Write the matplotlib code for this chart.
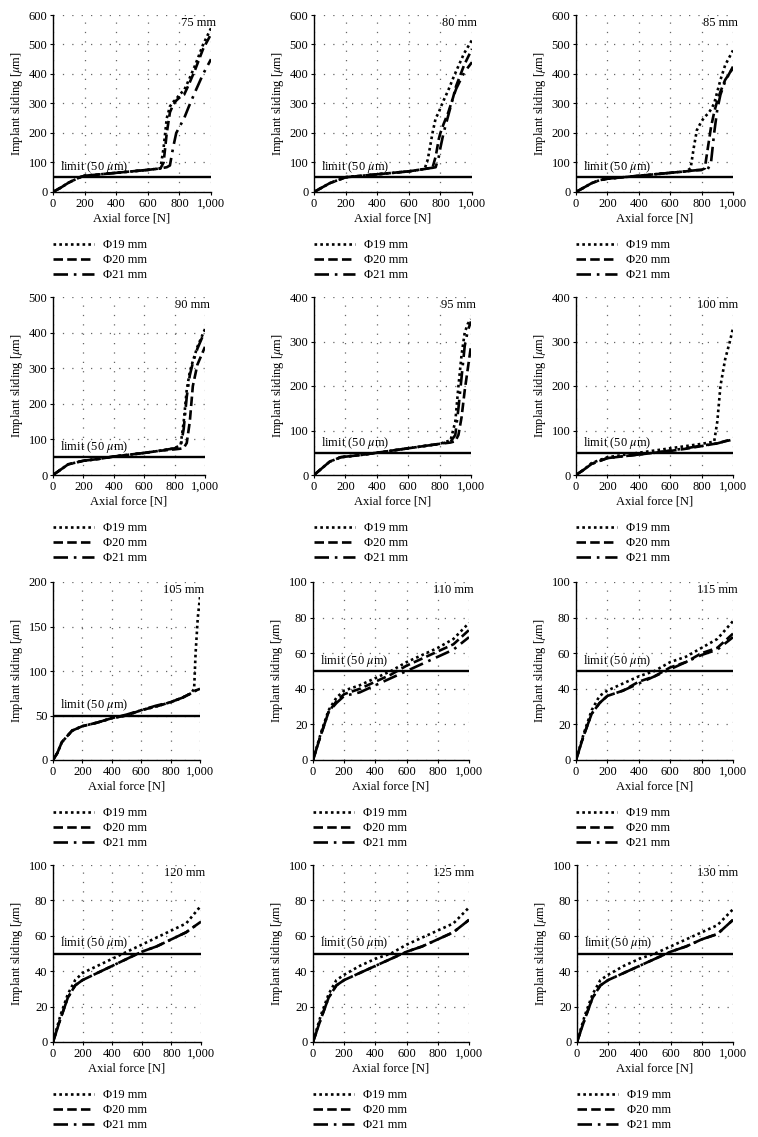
import matplotlib
matplotlib.use("Agg")
import matplotlib.pyplot as plt
from matplotlib.ticker import FuncFormatter, MultipleLocator

plt.rcParams['font.family'] = ['Liberation Serif', 'DejaVu Serif']
plt.rcParams['mathtext.fontset'] = 'stix'
plt.rcParams['font.size'] = 9

# panel names and y limits
lengths = ['75 mm', '80 mm', '85 mm', '90 mm', '95 mm', '100 mm',
           '105 mm', '110 mm', '115 mm', '120 mm', '125 mm', '130 mm']
ymax = [600, 600, 600, 500, 400, 400, 200, 100, 100, 100, 100, 100]
ystep = [100, 100, 100, 100, 100, 100, 50, 20, 20, 20, 20, 20]
diameters = ['Φ19 mm', 'Φ20 mm', 'Φ21 mm']
limit = 50

# axial force [N] and sliding [um]
x75 = [0, 50, 100, 170, 200, 300, 400, 500, 600, 680, 700, 720, 740, 760, 780, 800, 830, 860, 900, 950, 1000]
d19_75 = [0, 15, 32, 50, 55, 60, 65, 70, 75, 80, 150, 250, 290, 305, 315, 330, 345, 380, 430, 500, 555]
d20_75 = [0, 15, 32, 50, 55, 60, 65, 70, 75, 80, 100, 200, 270, 295, 310, 320, 330, 365, 415, 485, 535]
d21_75 = [0, 15, 32, 50, 55, 60, 65, 70, 75, 80, 82, 84, 90, 150, 200, 220, 250, 290, 340, 400, 450]

x80 = [0, 50, 100, 200, 300, 400, 500, 600, 700, 720, 750, 770, 790, 800, 820, 850, 880, 900, 950, 1000]
d19_80 = [0, 15, 30, 50, 55, 60, 65, 70, 78, 110, 200, 250, 270, 285, 310, 345, 385, 410, 470, 515]
d20_80 = [0, 15, 30, 50, 55, 60, 65, 70, 78, 80, 82, 120, 180, 200, 230, 270, 320, 360, 430, 485]
d21_80 = [0, 15, 30, 50, 55, 60, 65, 70, 78, 80, 82, 84, 120, 150, 200, 260, 320, 350, 405, 440]

x85 = [0, 50, 100, 150, 200, 300, 400, 500, 600, 700, 730, 750, 770, 800, 820, 840, 860, 880, 900, 920, 950, 1000]
d19_85 = [0, 15, 30, 40, 45, 50, 55, 60, 65, 70, 80, 150, 210, 240, 255, 265, 280, 300, 340, 380, 430, 480]
d20_85 = [0, 15, 30, 40, 45, 50, 55, 60, 65, 70, 72, 73, 74, 75, 80, 150, 220, 270, 310, 340, 380, 420]
d21_85 = [0, 15, 30, 40, 45, 50, 55, 60, 65, 70, 72, 73, 74, 75, 76, 78, 100, 200, 280, 330, 375, 425]

x90 = [0, 50, 100, 200, 300, 400, 500, 600, 700, 800, 840, 860, 880, 900, 920, 950, 1000]
d19_90 = [0, 15, 30, 40, 45, 52, 57, 62, 68, 75, 85, 150, 240, 290, 320, 360, 410]
d20_90 = [0, 15, 30, 40, 45, 52, 57, 62, 68, 72, 74, 76, 90, 150, 250, 310, 360]
d21_90 = [0, 15, 30, 40, 45, 52, 57, 62, 68, 75, 80, 130, 220, 280, 315, 355, 405]

x95 = [0, 50, 100, 170, 300, 400, 500, 600, 700, 800, 870, 900, 920, 940, 960, 980, 1000]
d19_95 = [0, 15, 30, 40, 45, 50, 55, 60, 65, 70, 78, 120, 200, 270, 320, 340, 350]
d20_95 = [0, 15, 30, 40, 45, 50, 55, 60, 65, 70, 73, 76, 90, 130, 190, 240, 290]
d21_95 = [0, 15, 30, 40, 45, 50, 55, 60, 65, 70, 75, 90, 150, 220, 290, 325, 345]

x100 = [0, 50, 100, 200, 300, 400, 500, 600, 700, 800, 880, 900, 920, 950, 980, 1000]
d19_100 = [0, 12, 27, 40, 45, 50, 55, 60, 65, 70, 75, 120, 200, 260, 300, 330]
d20_100 = [0, 12, 25, 38, 42, 46, 50, 54, 59, 65, 70, 71, 73, 76, 78, 80]
d21_100 = [0, 12, 25, 38, 42, 46, 50, 55, 60, 66, 70, 71, 73, 76, 79, 81]

x105 = [0, 30, 60, 130, 200, 300, 400, 500, 600, 700, 800, 880, 940, 960, 970, 985, 1000]
d19_105 = [0, 8, 20, 33, 38, 42, 47, 50, 56, 60, 65, 70, 75, 80, 120, 160, 183]
d20_105 = [0, 8, 20, 33, 38, 42, 47, 50, 56, 60, 65, 70, 75, 77, 78, 79, 80]
d21_105 = [0, 8, 20, 33, 38, 42, 47, 51, 56, 61, 65, 70, 75, 77, 78, 79, 81]

x_long = [0, 50, 100, 150, 200, 300, 400, 500, 600, 700, 800, 900, 1000]
d19_110 = [0, 15, 28, 35, 39, 42, 46, 50, 55, 59, 63, 68, 77]
d20_110 = [0, 14, 27, 33, 37, 40, 44, 48, 53, 57, 61, 65, 73]
d21_110 = [0, 14, 27, 32, 36, 38, 42, 46, 50, 54, 58, 62, 69]

d19_115 = [0, 15, 28, 36, 39, 43, 47, 50, 55, 58, 63, 68, 78]
d20_115 = [0, 14, 26, 32, 36, 39, 44, 47, 52, 55, 60, 63, 71]
d21_115 = [0, 14, 26, 32, 36, 39, 43, 47, 51, 55, 59, 62, 69]

d19_120 = [0, 15, 27, 35, 39, 43, 47, 51, 55, 59, 63, 67, 77]
d20_120 = [0, 13, 25, 32, 35, 39, 43, 47, 51, 54, 58, 62, 68]
d21_120 = [0, 13, 25, 32, 35, 39, 43, 47, 51, 54, 58, 62, 68]

d19_125 = [0, 15, 27, 35, 38, 43, 47, 50, 55, 59, 63, 67, 76]
d20_125 = [0, 13, 25, 32, 35, 39, 43, 47, 51, 54, 58, 62, 69]
d21_125 = [0, 13, 25, 32, 35, 39, 43, 47, 51, 54, 58, 62, 69]

d19_130 = [0, 15, 27, 35, 38, 43, 47, 50, 54, 58, 62, 66, 75]
d20_130 = [0, 13, 25, 32, 35, 39, 43, 47, 51, 54, 58, 61, 69]
d21_130 = [0, 13, 25, 32, 35, 39, 43, 47, 51, 54, 58, 61, 69]

panels = [
    (x75, [d19_75, d20_75, d21_75]),
    (x80, [d19_80, d20_80, d21_80]),
    (x85, [d19_85, d20_85, d21_85]),
    (x90, [d19_90, d20_90, d21_90]),
    (x95, [d19_95, d20_95, d21_95]),
    (x100, [d19_100, d20_100, d21_100]),
    (x105, [d19_105, d20_105, d21_105]),
    (x_long, [d19_110, d20_110, d21_110]),
    (x_long, [d19_115, d20_115, d21_115]),
    (x_long, [d19_120, d20_120, d21_120]),
    (x_long, [d19_125, d20_125, d21_125]),
    (x_long, [d19_130, d20_130, d21_130]),
]

styles = [(0, (1.0, 1.2)), (0, (3.6, 1.6)), (0, (5.5, 2.2, 1.0, 2.2))]

W, H = 758, 1137
# axes boxes in pixels: left, right, top, bottom
rows = [(15, 192), (297, 475), (582, 760), (865, 1042)]
cols = [[(53, 211), (314, 472), (576, 733)],
        [(53, 205), (314, 471), (576, 733)],
        [(53, 200), (313, 469), (576, 733)],
        [(53, 201), (313, 469), (577, 733)]]

fig = plt.figure(figsize=(W / 100, H / 100), dpi=100)
fmt = FuncFormatter(lambda v, p: '{:,.0f}'.format(v))

for i, (xs, ys) in enumerate(panels):
    r, c = divmod(i, 3)
    top, bot = rows[r]
    left, right = cols[r][c]
    ax = fig.add_axes([left / W, 1 - bot / H, (right - left) / W, (bot - top) / H])
    for y, ls, lab in zip(ys, styles, diameters):
        ax.plot(xs, y, color='black', lw=1.9, linestyle=ls, label=lab)
    ax.axhline(limit, color='black', lw=1.7)
    ax.annotate(r'limit (50 $\mu$m)', xy=(45, limit), xytext=(0, 1.5),
                textcoords='offset points', va='bottom', ha='left')
    ax.text(1.03, 0.955, lengths[i], transform=ax.transAxes, ha='right', va='center')
    ax.set_xlim(0, 1000)
    ax.set_ylim(0, ymax[i])
    ax.xaxis.set_major_locator(MultipleLocator(200))
    ax.yaxis.set_major_locator(MultipleLocator(ystep[i]))
    ax.xaxis.set_major_formatter(fmt)
    ax.grid(True, color='#666666', lw=0.9, linestyle=(0, (1, 6.5)))
    ax.set_axisbelow(True)
    for s in ['top', 'right']:
        ax.spines[s].set_visible(False)
    for s in ['left', 'bottom']:
        ax.spines[s].set_linewidth(1.0)
    ax.tick_params(length=2, width=0.8, pad=2)
    ax.set_xlabel('Axial force [N]', labelpad=2)
    ax.set_ylabel(r'Implant sliding [$\mu$m]', labelpad=3)
    ax.legend(loc='upper left', bbox_to_anchor=(0, -0.265), frameon=False,
              borderpad=0, borderaxespad=0, handlelength=3.3, handletextpad=0.7,
              labelspacing=0.25)

fig.savefig('out.png', dpi=100)
